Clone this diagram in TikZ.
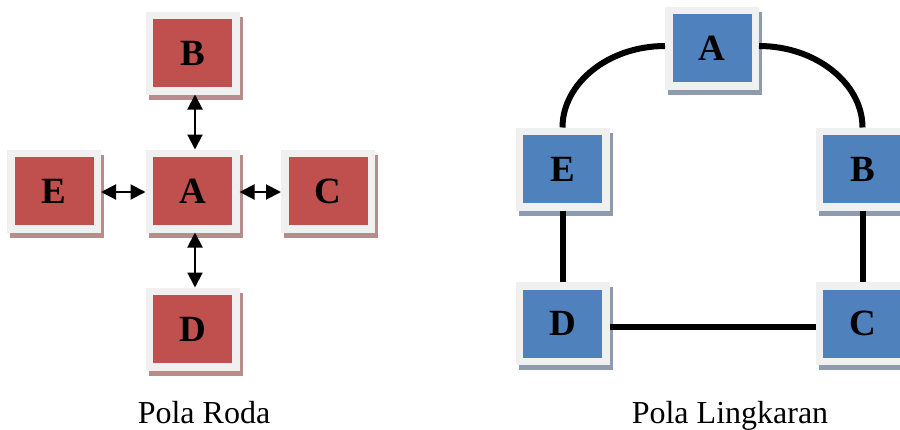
\documentclass[tikz,border=0pt]{standalone}
\usepackage{fontspec}
\setmainfont{Liberation Serif}
\usetikzlibrary{arrows.meta,shadows}
\definecolor{boxred}{HTML}{C0504D}
\definecolor{boxblue}{HTML}{4F81BD}
\definecolor{framegrey}{HTML}{F0F0F0}
\definecolor{redshadow}{HTML}{B98C8C}
\definecolor{blueshadow}{HTML}{8E9BAE}
\tikzset{
  basebox/.style={rectangle, fill=framegrey, minimum width=94pt, minimum height=83pt,
    inner sep=0pt, outer sep=0pt, font=\fontsize{37}{37}\selectfont\bfseries},
  redbox/.style={basebox,
    general shadow={fill=redshadow, shadow xshift=3pt, shadow yshift=-5pt},
    path picture={\fill[boxred] ([shift={(7.5pt,-7.5pt)}]path picture bounding box.north west) rectangle ([shift={(-7.5pt,7.5pt)}]path picture bounding box.south east);}},
  bluebox/.style={basebox,
    general shadow={fill=blueshadow, shadow xshift=3pt, shadow yshift=-5pt},
    path picture={\fill[boxblue] ([shift={(7.5pt,-7.5pt)}]path picture bounding box.north west) rectangle ([shift={(-7.5pt,7.5pt)}]path picture bounding box.south east);}},
  dblarrow/.style={line width=2pt, {Triangle[length=15pt,width=15pt]}-{Triangle[length=15pt,width=15pt]}},
  ringline/.style={line width=6pt},
  caption/.style={font=\fontsize{32}{32}\selectfont, anchor=base, inner sep=0pt}
}
\begin{document}
\begin{tikzpicture}[x=1pt,y=-1pt]
\useasboundingbox (0,0) rectangle (900,429);
% Pola Roda
\node[redbox] (rA) at (192.5,191) {A};
\node[redbox] (rB) at (192.5,53) {B};
\node[redbox] (rE) at (54,191) {E};
\node[redbox] (rC) at (328,191) {C};
\node[redbox] (rD) at (192.5,329) {D};
\draw[dblarrow] ([xshift=2.5pt]rB.south) -- ([xshift=2.5pt]rA.north);
\draw[dblarrow] ([xshift=2.5pt]rA.south) -- ([xshift=2.5pt]rD.north);
\draw[dblarrow] ([yshift=-1pt]rE.east) -- ([yshift=-1pt]rA.west);
\draw[dblarrow] ([yshift=-1pt]rA.east) -- ([yshift=-1pt]rC.west);
\node[caption] (cap1) at (204,423) {Pola Roda};
% Pola Lingkaran
\node[bluebox] (bA) at (712,48) {A};
\node[bluebox] (bE) at (562.5,169) {E};
\node[bluebox] (bB) at (862.5,169) {B};
\node[bluebox] (bD) at (562.5,323.5) {D};
\node[bluebox] (bC) at (862.5,323.5) {C};
\draw[ringline] (bE.north) .. controls +(0pt,44pt) and +(-57pt,0pt) .. ([yshift=2pt]bA.west);
\draw[ringline] ([yshift=2pt]bA.east) .. controls +(57pt,0pt) and +(0pt,44pt) .. (bB.north);
\draw[ringline] (bE.south) -- (bD.north);
\draw[ringline] (bB.south) -- (bC.north);
\draw[ringline] ([yshift=-3pt]bD.east) -- ([yshift=-3pt]bC.west);
\node[caption] (cap2) at (730,423) {Pola Lingkaran};
\end{tikzpicture}
\end{document}
